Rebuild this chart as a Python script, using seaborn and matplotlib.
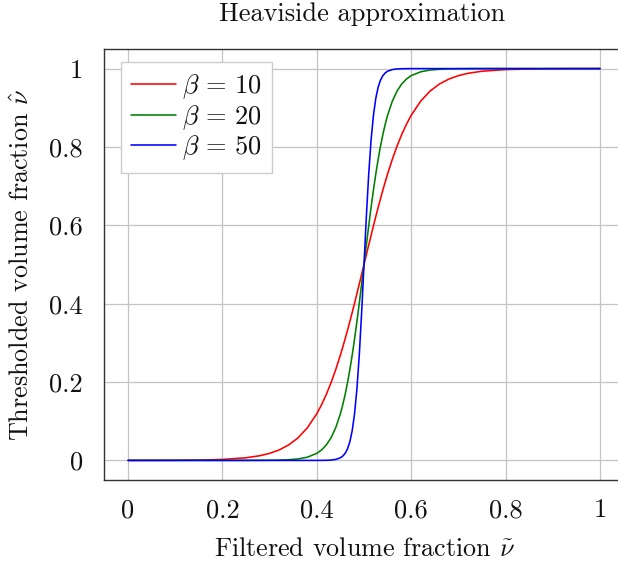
import matplotlib
matplotlib.use("Agg")
import matplotlib.pyplot as plt
import seaborn as sns
import pandas as pd

# Filtered volume fraction (x) sample points
x_vals = [0.0, 0.05, 0.1, 0.15, 0.2, 0.25, 0.28, 0.3, 0.32, 0.34, 0.36, 0.38, 0.40,
          0.41, 0.42, 0.43, 0.44, 0.45, 0.455, 0.46, 0.465, 0.47, 0.475, 0.48, 0.485,
          0.49, 0.495, 0.5,
          0.505, 0.51, 0.515, 0.52, 0.525, 0.53, 0.535, 0.54, 0.545, 0.55, 0.56, 0.57,
          0.58, 0.59, 0.60, 0.62, 0.64, 0.66, 0.68, 0.70, 0.72, 0.75, 0.8, 0.85, 0.9,
          0.95, 1.0]

# Thresholded volume fraction for each beta
y_beta10 = [0.0, 0.0001, 0.0003, 0.0009, 0.0025, 0.0067, 0.0121, 0.0180, 0.0266, 0.0392,
            0.0573, 0.0832, 0.1192, 0.1419, 0.1680, 0.1978, 0.2315, 0.2689, 0.2891, 0.3100,
            0.3318, 0.3543, 0.3775, 0.4013, 0.4256, 0.4502, 0.4750, 0.5,
            0.5250, 0.5498, 0.5744, 0.5987, 0.6225, 0.6457, 0.6682, 0.6900, 0.7109, 0.7311,
            0.7685, 0.8022, 0.8320, 0.8581, 0.8808, 0.9168, 0.9427, 0.9608, 0.9734, 0.9820,
            0.9879, 0.9933, 0.9975, 0.9991, 0.9997, 0.9999, 1.0]
y_beta20 = [0.0, 0.0, 0.0, 0.0, 0.0, 0.0, 0.0002, 0.0003, 0.0007, 0.0017,
            0.0037, 0.0082, 0.0180, 0.0266, 0.0392, 0.0573, 0.0832, 0.1192, 0.1419, 0.1680,
            0.1978, 0.2315, 0.2689, 0.3100, 0.3543, 0.4013, 0.4502, 0.5,
            0.5498, 0.5987, 0.6457, 0.6900, 0.7311, 0.7685, 0.8022, 0.8320, 0.8581, 0.8808,
            0.9168, 0.9427, 0.9608, 0.9734, 0.9820, 0.9918, 0.9963, 0.9983, 0.9993, 0.9997,
            0.9998, 1.0, 1.0, 1.0, 1.0, 1.0, 1.0]
y_beta50 = [0.0, 0.0, 0.0, 0.0, 0.0, 0.0, 0.0, 0.0, 0.0, 0.0,
            0.0, 0.0, 0.0, 0.0001, 0.0003, 0.0009, 0.0025, 0.0067, 0.0110, 0.0180,
            0.0293, 0.0474, 0.0759, 0.1192, 0.1824, 0.2689, 0.3775, 0.5,
            0.6225, 0.7311, 0.8176, 0.8808, 0.9241, 0.9526, 0.9707, 0.9820, 0.9890, 0.9933,
            0.9975, 0.9991, 0.9997, 0.9999, 1.0, 1.0, 1.0, 1.0, 1.0, 1.0,
            1.0, 1.0, 1.0, 1.0, 1.0, 1.0, 1.0]

series_labels = [r"$\beta\,=\,10$", r"$\beta\,=\,20$", r"$\beta\,=\,50$"]
series_colors = ["#ff0000", "#008000", "#0000ff"]
tick_vals = [0, 0.2, 0.4, 0.6, 0.8, 1]
tick_labels = ["0", "0.2", "0.4", "0.6", "0.8", "1"]

frames = []
for lab, ys in zip(series_labels, [y_beta10, y_beta20, y_beta50]):
    frames.append(pd.DataFrame({"x": x_vals, "y": ys, "series": lab}))
df = pd.concat(frames, ignore_index=True)

sns.set_style("white")
plt.rcParams["font.family"] = ["cmr10", "DejaVu Serif"]
plt.rcParams["mathtext.fontset"] = "cm"
plt.rcParams["axes.formatter.use_mathtext"] = True

W, H = 618, 565
fig = plt.figure(figsize=(W / 100, H / 100), dpi=100)
ax_left = 104.4 / W
ax_bottom = (H - 480) / H
ax_width = 519.2 / W
ax_height = 431 / H
ax = fig.add_axes([ax_left, ax_bottom, ax_width, ax_height])

sns.lineplot(data=df, x="x", y="y", hue="series", palette=series_colors,
             estimator=None, sort=False, linewidth=1.15, ax=ax)

ax.set_xlim(-0.05, 1.05)
ax.set_ylim(-0.05, 1.05)
ax.set_xticks(tick_vals)
ax.set_xticklabels(tick_labels)
ax.set_yticks(tick_vals)
ax.set_yticklabels(tick_labels)
ax.grid(True, color="#c4c4c4", linewidth=0.9)
ax.set_axisbelow(True)
for s in ax.spines.values():
    s.set_color("#333333")
    s.set_linewidth(1.0)
ax.tick_params(axis="both", direction="out", length=7.5, width=0.9, color="#c4c4c4",
               labelsize=19, labelcolor="#111111")
ax.tick_params(axis="x", pad=6)
ax.tick_params(axis="y", pad=8)

ax.set_xlabel(r"Filtered volume fraction $\tilde{\nu}$", fontsize=18.8, color="#111111")
ax.set_ylabel(r"Thresholded volume fraction $\hat{\nu}$", fontsize=18.8, color="#111111")
ax.xaxis.set_label_coords(0.5, (480 - 556) / 431)
ax.xaxis.label.set_va("baseline")
ax.yaxis.set_label_coords((34 - 104.4) / 519.2, 0.5)

fig.text(362.5 / W, 1 - 21 / H, "Heaviside approximation", ha="center", va="baseline",
         fontsize=19, color="#111111")

leg = ax.legend(loc="upper left", bbox_to_anchor=((121 - 104.4) / 519.2, (480 - 62) / 431),
                fontsize=19, frameon=True, fancybox=False, handlelength=1.7,
                handletextpad=0.25, borderpad=0.38, labelspacing=0.08, borderaxespad=0)
leg.get_frame().set_edgecolor("#cccccc")
leg.get_frame().set_linewidth(1.0)
leg.get_frame().set_alpha(1.0)
for t in leg.get_texts():
    t.set_color("#111111")

fig.savefig("out.png", dpi=100)
